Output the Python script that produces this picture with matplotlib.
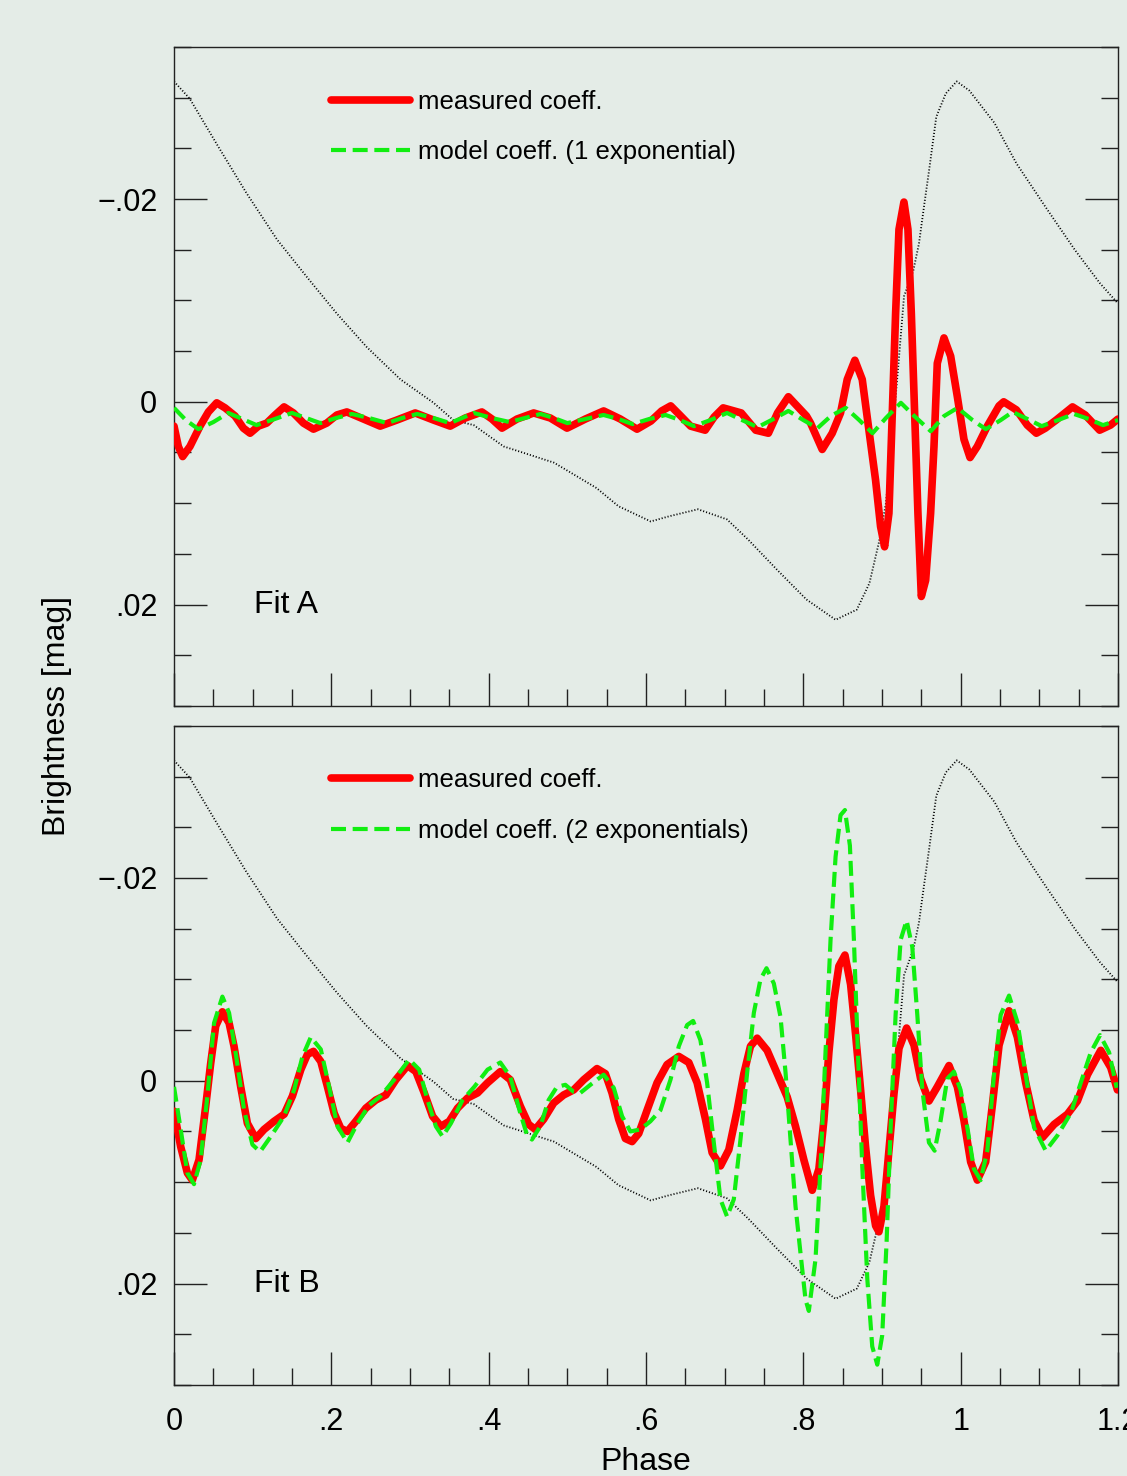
import numpy as np
import matplotlib.pyplot as plt
from matplotlib.ticker import FixedLocator, MultipleLocator, FuncFormatter

plt.rcParams['font.family'] = ['Liberation Sans', 'DejaVu Sans']

# ---- data (phase, magnitude) ----
# light curve (black dots), same in both panels
lc_phase = [0.000, 0.020, 0.056, 0.092, 0.131, 0.169, 0.207, 0.245, 0.288, 0.330,
            0.355, 0.381, 0.419, 0.483, 0.537, 0.565, 0.606, 0.629, 0.666, 0.703,
            0.730, 0.767, 0.804, 0.841, 0.868, 0.884, 0.896, 0.905, 0.912, 0.921,
            0.928, 0.940, 0.947, 0.954, 0.960, 0.969, 0.981, 0.995, 1.011, 1.043,
            1.071, 1.108, 1.145, 1.177, 1.200]
lc_mag = [-0.0316, -0.0299, -0.0252, -0.0206, -0.0160, -0.0123, -0.0087, -0.0054, -0.0022, 0.0001,
          0.0018, 0.0023, 0.0044, 0.0060, 0.0085, 0.0103, 0.0118, 0.0113, 0.0106, 0.0116,
          0.0136, 0.0166, 0.0195, 0.0215, 0.0205, 0.0179, 0.0139, 0.0100, 0.0044, -0.0038,
          -0.0104, -0.0130, -0.0156, -0.0196, -0.0229, -0.0281, -0.0304, -0.0316, -0.0307, -0.0275,
          -0.0235, -0.0192, -0.0150, -0.0117, -0.0097]

# Fit A: measured coefficients
measA_phase = [0.0000, 0.0055, 0.0110, 0.0203, 0.0331, 0.0437, 0.0543, 0.0649, 0.0776, 0.0882,
               0.0967, 0.1073, 0.1179, 0.1285, 0.1399, 0.1518, 0.1645, 0.1773, 0.1942, 0.2070,
               0.2197, 0.2409, 0.2621, 0.2833, 0.3066, 0.3299, 0.3511, 0.3702, 0.3914, 0.4042,
               0.4169, 0.4360, 0.4572, 0.4784, 0.4996, 0.5229, 0.5462, 0.5674, 0.5886, 0.6062,
               0.6199, 0.6314, 0.6429, 0.6567, 0.6752, 0.6866, 0.6981, 0.7211, 0.7395, 0.7556,
               0.7672, 0.7810, 0.8040, 0.8092, 0.8240, 0.8367, 0.8473, 0.8558, 0.8655, 0.8749,
               0.8834, 0.8918, 0.8982, 0.9033, 0.9088, 0.9131, 0.9173, 0.9216, 0.9279, 0.9330,
               0.9373, 0.9415, 0.9457, 0.9500, 0.9555, 0.9618, 0.9661, 0.9703, 0.9788, 0.9873,
               0.9958, 1.0042, 1.0119, 1.0212, 1.0339, 1.0488, 1.0547, 1.0709, 1.0847, 1.0962,
               1.1077, 1.1214, 1.1422, 1.1583, 1.1767, 1.1905, 1.2000]
measA_mag = [0.0024, 0.0044, 0.0054, 0.0044, 0.0024, 0.0010, 0.0001, 0.0006, 0.0014, 0.0026,
             0.0031, 0.0024, 0.0021, 0.0013, 0.0005, 0.0011, 0.0021, 0.0027, 0.0021, 0.0013,
             0.0010, 0.0017, 0.0024, 0.0018, 0.0011, 0.0018, 0.0024, 0.0016, 0.0010, 0.0017,
             0.0026, 0.0017, 0.0011, 0.0016, 0.0026, 0.0017, 0.0009, 0.0017, 0.0027, 0.0019,
             0.0009, 0.0004, 0.0013, 0.0024, 0.0028, 0.0015, 0.0006, 0.0011, 0.0028, 0.0031,
             0.0011, -0.0005, 0.0014, 0.0021, 0.0047, 0.0031, 0.0011, -0.0022, -0.0041, -0.0022,
             0.0028, 0.0077, 0.0123, 0.0143, 0.0110, 0.0011, -0.0087, -0.0170, -0.0197, -0.0170,
             -0.0087, 0.0011, 0.0110, 0.0192, 0.0176, 0.0110, 0.0044, -0.0038, -0.0063, -0.0045,
             -0.0005, 0.0037, 0.0055, 0.0044, 0.0024, 0.0004, 0.0000, 0.0008, 0.0023, 0.0031,
             0.0026, 0.0018, 0.0005, 0.0013, 0.0028, 0.0023, 0.0017]

# Fit A: model coefficients (1 exponential)
modA_phase = [0.000, 0.015, 0.031, 0.050, 0.069, 0.087, 0.105, 0.128, 0.150, 0.168,
              0.186, 0.206, 0.226, 0.248, 0.271, 0.290, 0.309, 0.330, 0.351, 0.366,
              0.381, 0.404, 0.427, 0.446, 0.466, 0.483, 0.500, 0.523, 0.546, 0.565,
              0.583, 0.604, 0.625, 0.643, 0.661, 0.682, 0.703, 0.722, 0.742, 0.762,
              0.781, 0.800, 0.818, 0.835, 0.854, 0.871, 0.888, 0.905, 0.924, 0.941,
              0.962, 0.979, 0.996, 1.015, 1.032, 1.051, 1.066, 1.085, 1.103, 1.124,
              1.144, 1.163, 1.181, 1.200]
modA_mag = [0.0006, 0.0018, 0.0027, 0.0020, 0.0011, 0.0017, 0.0023, 0.0017, 0.0011, 0.0016,
            0.0021, 0.0016, 0.0012, 0.0016, 0.0021, 0.0016, 0.0012, 0.0016, 0.0021, 0.0016,
            0.0011, 0.0016, 0.0020, 0.0016, 0.0012, 0.0016, 0.0021, 0.0017, 0.0013, 0.0017,
            0.0022, 0.0017, 0.0013, 0.0018, 0.0024, 0.0018, 0.0011, 0.0018, 0.0025, 0.0017,
            0.0009, 0.0018, 0.0026, 0.0014, 0.0006, 0.0018, 0.0031, 0.0016, 0.0001, 0.0014,
            0.0029, 0.0014, 0.0006, 0.0018, 0.0027, 0.0018, 0.0010, 0.0017, 0.0024, 0.0018,
            0.0012, 0.0017, 0.0023, 0.0018]

# Fit B: measured coefficients
measB_phase = [0.0000, 0.0085, 0.0170, 0.0233, 0.0318, 0.0403, 0.0466, 0.0530, 0.0615, 0.0700,
               0.0763, 0.0848, 0.0933, 0.1039, 0.1145, 0.1272, 0.1400, 0.1506, 0.1612, 0.1696,
               0.1773, 0.1866, 0.1951, 0.2036, 0.2120, 0.2205, 0.2311, 0.2439, 0.2566, 0.2693,
               0.2820, 0.2969, 0.3075, 0.3181, 0.3287, 0.3393, 0.3499, 0.3605, 0.3732, 0.3859,
               0.3986, 0.4148, 0.4275, 0.4402, 0.4508, 0.4593, 0.4699, 0.4826, 0.4953, 0.5081,
               0.5208, 0.5377, 0.5483, 0.5568, 0.5653, 0.5738, 0.5823, 0.5908, 0.6014, 0.6141,
               0.6268, 0.6417, 0.6544, 0.6650, 0.6756, 0.6841, 0.6947, 0.7053, 0.7159, 0.7244,
               0.7328, 0.7413, 0.7540, 0.7668, 0.7795, 0.7901, 0.8007, 0.8113, 0.8198, 0.8261,
               0.8325, 0.8389, 0.8452, 0.8529, 0.8601, 0.8664, 0.8728, 0.8791, 0.8855, 0.8919,
               0.8961, 0.9025, 0.9088, 0.9152, 0.9216, 0.9313, 0.9407, 0.9491, 0.9597, 0.9703,
               0.9852, 0.9958, 1.0042, 1.0127, 1.0212, 1.0318, 1.0403, 1.0488, 1.0615, 1.0721,
               1.0827, 1.0933, 1.1039, 1.1188, 1.1357, 1.1484, 1.1612, 1.1781, 1.1908, 1.1993]
measB_mag = [0.0030, 0.0065, 0.0091, 0.0098, 0.0078, 0.0025, -0.0017, -0.0054, -0.0068, -0.0057,
             -0.0034, 0.0006, 0.0042, 0.0057, 0.0048, 0.0040, 0.0033, 0.0015, -0.0011, -0.0026,
             -0.0029, -0.0019, 0.0006, 0.0032, 0.0047, 0.0050, 0.0040, 0.0027, 0.0019, 0.0014,
             -0.0001, -0.0015, -0.0009, 0.0012, 0.0035, 0.0045, 0.0040, 0.0027, 0.0017, 0.0012,
             0.0002, -0.0009, -0.0001, 0.0025, 0.0043, 0.0048, 0.0038, 0.0022, 0.0014, 0.0009,
             -0.0001, -0.0012, -0.0007, 0.0012, 0.0038, 0.0057, 0.0060, 0.0052, 0.0029, 0.0002,
             -0.0016, -0.0024, -0.0018, 0.0002, 0.0038, 0.0071, 0.0084, 0.0068, 0.0029, -0.0007,
             -0.0034, -0.0042, -0.0030, -0.0007, 0.0016, 0.0045, 0.0078, 0.0108, 0.0087, 0.0039,
             -0.0028, -0.0080, -0.0113, -0.0124, -0.0095, -0.0046, 0.0009, 0.0065, 0.0113, 0.0143,
             0.0149, 0.0124, 0.0069, 0.0013, -0.0032, -0.0052, -0.0035, -0.0002, 0.0020, 0.0006,
             -0.0015, 0.0006, 0.0039, 0.0080, 0.0098, 0.0080, 0.0024, -0.0035, -0.0069, -0.0043,
             0.0002, 0.0039, 0.0056, 0.0043, 0.0033, 0.0020, -0.0006, -0.0030, -0.0013, 0.0009]

# Fit B: model coefficients (2 exponentials)
modB_phase = [0.0000, 0.0085, 0.0170, 0.0254, 0.0339, 0.0424, 0.0509, 0.0615, 0.0700, 0.0785,
              0.0891, 0.0997, 0.1094, 0.1230, 0.1399, 0.1527, 0.1633, 0.1739, 0.1866, 0.1972,
              0.2078, 0.2205, 0.2332, 0.2481, 0.2629, 0.2799, 0.2990, 0.3117, 0.3223, 0.3329,
              0.3414, 0.3520, 0.3668, 0.3817, 0.3986, 0.4148, 0.4275, 0.4402, 0.4486, 0.4550,
              0.4656, 0.4762, 0.4868, 0.4975, 0.5081, 0.5165, 0.5293, 0.5462, 0.5590, 0.5696,
              0.5802, 0.5929, 0.6056, 0.6184, 0.6311, 0.6417, 0.6523, 0.6599, 0.6692, 0.6777,
              0.6862, 0.6947, 0.7031, 0.7116, 0.7201, 0.7286, 0.7371, 0.7455, 0.7532, 0.7625,
              0.7710, 0.7774, 0.7837, 0.7901, 0.7964, 0.8028, 0.8070, 0.8155, 0.8219, 0.8282,
              0.8346, 0.8410, 0.8473, 0.8529, 0.8592, 0.8643, 0.8694, 0.8749, 0.8813, 0.8876,
              0.8940, 0.9003, 0.9059, 0.9110, 0.9173, 0.9237, 0.9313, 0.9385, 0.9449, 0.9513,
              0.9597, 0.9669, 0.9746, 0.9830, 0.9915, 0.9999, 1.0085, 1.0169, 1.0254, 1.0339,
              1.0424, 1.0509, 1.0615, 1.0721, 1.0827, 1.0933, 1.1081, 1.1230, 1.1400, 1.1527,
              1.1654, 1.1772, 1.1887, 1.1984]
modB_mag = [0.0006, 0.0048, 0.0091, 0.0102, 0.0078, 0.0015, -0.0057, -0.0083, -0.0067, -0.0027,
            0.0029, 0.0063, 0.0070, 0.0055, 0.0035, 0.0009, -0.0024, -0.0043, -0.0031, 0.0006,
            0.0045, 0.0061, 0.0042, 0.0024, 0.0015, -0.0001, -0.0021, -0.0011, 0.0019, 0.0045,
            0.0055, 0.0042, 0.0019, 0.0006, -0.0011, -0.0018, -0.0004, 0.0032, 0.0053, 0.0058,
            0.0045, 0.0019, 0.0006, 0.0004, 0.0011, 0.0012, 0.0004, -0.0006, 0.0007, 0.0035,
            0.0050, 0.0048, 0.0040, 0.0029, -0.0001, -0.0034, -0.0055, -0.0059, -0.0040, 0.0002,
            0.0061, 0.0117, 0.0134, 0.0117, 0.0058, -0.0008, -0.0067, -0.0100, -0.0111, -0.0096,
            -0.0063, -0.0008, 0.0058, 0.0124, 0.0170, 0.0216, 0.0227, 0.0176, 0.0084, -0.0028,
            -0.0139, -0.0221, -0.0262, -0.0267, -0.0232, -0.0139, -0.0028, 0.0084, 0.0195, 0.0262,
            0.0280, 0.0251, 0.0158, 0.0046, -0.0065, -0.0139, -0.0158, -0.0132, -0.0065, 0.0009,
            0.0061, 0.0069, 0.0039, -0.0002, -0.0009, 0.0009, 0.0046, 0.0087, 0.0098, 0.0069,
            -0.0006, -0.0065, -0.0084, -0.0058, -0.0006, 0.0046, 0.0069, 0.0054, 0.0032, 0.0002,
            -0.0028, -0.0045, -0.0028, 0.0007]

panels = [
    ('Fit A', measA_phase, measA_mag, modA_phase, modA_mag, 'model coeff. (1 exponential)'),
    ('Fit B', measB_phase, measB_mag, modB_phase, modB_mag, 'model coeff. (2 exponentials)'),
]

bg = '#e4ece7'
red = '#ff0000'
green = '#11ee11'

fig = plt.figure(figsize=(11.27, 14.76), dpi=100, facecolor=bg)
ax_top = fig.add_axes([0.1544, 0.5217, 0.8376, 0.4465])
ax_bot = fig.add_axes([0.1544, 0.0617, 0.8376, 0.4465])


def y_fmt(v, pos):
    if abs(v) < 1e-9:
        return '0'
    s = f'{abs(v):.2f}'.lstrip('0')
    return ('\u2212' if v < 0 else '') + s


def x_fmt(v, pos):
    if abs(v) < 1e-9:
        return '0'
    s = f'{v:.1f}'
    if s.endswith('.0'):
        s = s[:-2]
    return s.lstrip('0') if v < 1 else s


for ax, (name, mp, mm, dp, dm, mlab) in zip([ax_top, ax_bot], panels):
    ax.set_facecolor(bg)
    ax.plot(lc_phase, lc_mag, color='black', lw=1.3, linestyle=(0, (0.6, 1.1)), zorder=2)
    ax.plot(mp, mm, color=red, lw=5.5, solid_joinstyle='round', solid_capstyle='round',
            label='measured coeff.', zorder=3)
    ax.plot(dp, dm, color=green, lw=3.0, linestyle=(0, (3.6, 1.6)), label=mlab, zorder=4)

    ax.set_xlim(0, 1.2)
    ax.set_ylim(0.03, -0.035)

    ax.xaxis.set_major_locator(MultipleLocator(0.2))
    ax.xaxis.set_minor_locator(MultipleLocator(0.05))
    ax.yaxis.set_major_locator(FixedLocator([-0.02, 0.0, 0.02]))
    ax.yaxis.set_minor_locator(MultipleLocator(0.005))
    ax.yaxis.set_major_formatter(FuncFormatter(y_fmt))
    ax.xaxis.set_major_formatter(FuncFormatter(x_fmt))

    ax.tick_params(which='both', direction='in', top=False, right=True,
                   color='#222222', width=1.0)
    ax.tick_params(which='major', length=24, labelsize=22, pad=12)
    ax.tick_params(which='minor', length=12)
    ax.tick_params(axis='x', which='major', pad=16)
    for sp in ax.spines.values():
        sp.set_color('#222222')
        sp.set_linewidth(1.0)

    ax.text(0.102, 0.02, name, fontsize=23, va='center', ha='left')

    ax.legend(loc='upper left', bbox_to_anchor=(0.155, 0.951), frameon=False,
              fontsize=18.5, handlelength=3.1, handletextpad=0.3,
              labelspacing=1.05, borderaxespad=0)

ax_top.tick_params(axis='x', labelbottom=False)
ax_bot.set_xlabel('Phase', fontsize=23, labelpad=7)
fig.text(57 / 1127, 1 - 716 / 1476, 'Brightness [mag]', rotation=90,
         fontsize=23, ha='center', va='center')

fig.savefig('out.png', dpi=100, facecolor=bg)
